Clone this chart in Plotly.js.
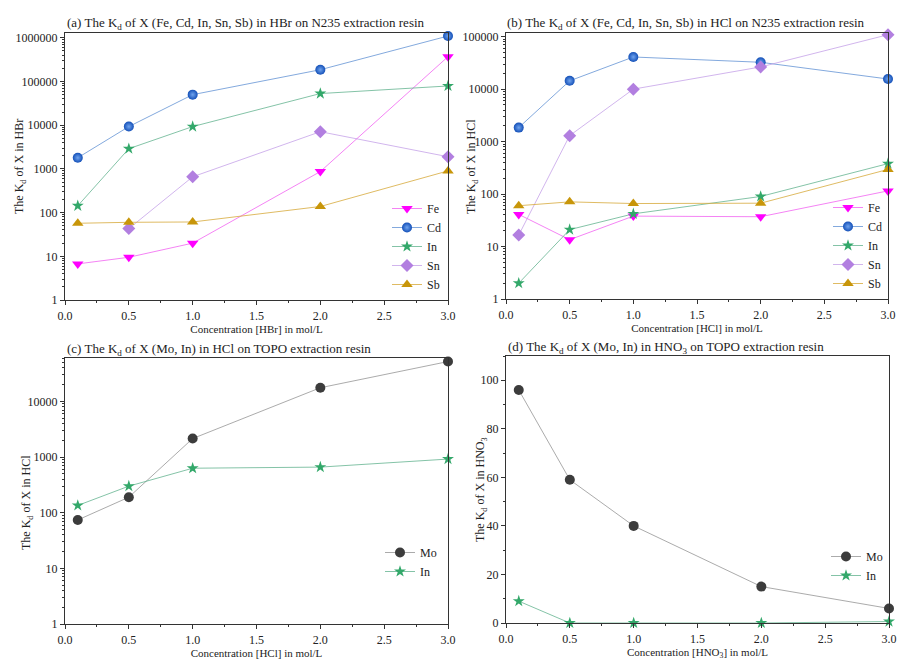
<!DOCTYPE html>
<html>
<head>
<meta charset="utf-8">
<script src="https://cdn.plot.ly/plotly-3.0.1.min.js"></script>
<style>html,body{margin:0;padding:0;background:#fff;}#chart{width:907px;height:669px;}</style>
</head>
<body>
<div id="chart"></div>
<script>
// ---- data ----
const conc = [0.1, 0.5, 1.0, 2.0, 3.0];

// (a) HBr on N235
const aFe = [6.7, 9.5, 20, 870, 370000];
const aCd = [1800, 9300, 50000, 186000, 1100000];
const aIn = [143, 2900, 9300, 53000, 79000];
const aSn = [null, 43, 660, 7100, 1900];
const aSb = [57, 60, 61, 138, 900];

// (b) HCl on N235
const bFe = [41, 13.5, 38, 37, 115];
const bCd = [1850, 14400, 41000, 32500, 15600];
const bIn = [2, 21, 42, 90, 380];
const bSn = [16.5, 1300, 10000, 26500, 109000];
const bSb = [60, 71, 66, 67, 295];

// (c) HCl on TOPO
const cMo = [74, 190, 2150, 17600, 52000];
const cIn = [135, 300, 630, 660, 920];

// (d) HNO3 on TOPO
const dMo = [96, 59, 40, 15, 6];
const dIn = [9, 0, 0, 0, 0.6];

const panelTitles = [
  "(a) The K<sub>d</sub> of X (Fe, Cd, In, Sn, Sb) in HBr on N235 extraction resin",
  "(b) The K<sub>d</sub> of X (Fe, Cd, In, Sn, Sb) in HCl on N235 extraction resin",
  "(c) The K<sub>d</sub> of X (Mo, In) in HCl on TOPO extraction resin",
  "(d) The K<sub>d</sub> of X (Mo, In) in HNO<sub>3</sub> on TOPO extraction resin"
];
const xTitles = [
  "Concentration [HBr] in mol/L",
  "Concentration [HCl] in mol/L",
  "Concentration [HCl] in mol/L",
  "Concentration [HNO<sub>3</sub>] in mol/L"
];
const yTitles = [
  "The K<sub>d</sub> of X in HBr",
  "The K<sub>d</sub> of X in HCl",
  "The K<sub>d</sub> of X in HCl",
  "The K<sub>d</sub> of X in HNO<sub>3</sub>"
];

// ---- styles ----
const FONT = "Liberation Serif";
const styles = {
  Fe: {symbol: 'triangle-down', color: '#ff00ff', line: 'rgba(240,90,240,0.75)', size: 10},
  Cd: {symbol: 'circle', color: '#1450b8', line: 'rgba(90,140,210,0.75)', size: 10, gradient: {type: 'radial', color: '#6fa3ee'}},
  In: {symbol: 'star', color: '#33a86a', line: 'rgba(80,170,130,0.7)', size: 9},
  Sn: {symbol: 'diamond', color: '#b27fe0', line: 'rgba(190,150,230,0.7)', size: 10},
  Sb: {symbol: 'triangle-up', color: '#c8960a', line: 'rgba(215,170,60,0.8)', size: 10},
  Mo: {symbol: 'circle', color: '#3c3c3c', line: 'rgba(150,150,150,0.8)', size: 10}
};

function tr(name, y, xa, ya, leg) {
  const s = styles[name];
  const m = {symbol: s.symbol, color: s.color, size: s.size, line: {width: 0}};
  if (s.gradient) m.gradient = s.gradient;
  return {
    x: conc, y: y, name: name, type: 'scatter', mode: 'lines+markers',
    xaxis: xa, yaxis: ya, legend: leg, cliponaxis: false,
    line: {color: s.line, width: 1}, marker: m
  };
}

const data = [
  tr('Fe', aFe, 'x', 'y', 'legend'),
  tr('Cd', aCd, 'x', 'y', 'legend'),
  tr('In', aIn, 'x', 'y', 'legend'),
  tr('Sn', aSn, 'x', 'y', 'legend'),
  tr('Sb', aSb, 'x', 'y', 'legend'),
  tr('Fe', bFe, 'x2', 'y2', 'legend2'),
  tr('Cd', bCd, 'x2', 'y2', 'legend2'),
  tr('In', bIn, 'x2', 'y2', 'legend2'),
  tr('Sn', bSn, 'x2', 'y2', 'legend2'),
  tr('Sb', bSb, 'x2', 'y2', 'legend2'),
  tr('Mo', cMo, 'x3', 'y3', 'legend3'),
  tr('In', cIn, 'x3', 'y3', 'legend3'),
  tr('Mo', dMo, 'x4', 'y4', 'legend4'),
  tr('In', dIn, 'x4', 'y4', 'legend4')
];

const W = 907, H = 669;
const px = v => v / W;
const py = v => 1 - v / H;

function xax(dom, title, anchor) {
  return {
    domain: dom, anchor: anchor, range: [0, 3], dtick: 0.5, tickformat: '.1f',
    showline: true, mirror: true, linecolor: '#333', linewidth: 1.2,
    ticks: 'outside', ticklen: 4, tickcolor: '#333', showgrid: false, zeroline: false,
    minor: {ticks: 'outside', ticklen: 2, dtick: 0.25, tickcolor: '#333', showgrid: false},
    tickfont: {family: FONT, size: 12, color: '#222'},
    title: {text: title, font: {family: FONT, size: 11, color: '#222'}, standoff: 1},
    automargin: false
  };
}
function ylog(dom, range, anchor) {
  return {
    domain: dom, anchor: anchor, type: 'log', range: range, dtick: 1, tickformat: 'd',
    showline: true, mirror: true, linecolor: '#333', linewidth: 1.2,
    ticks: 'outside', ticklen: 4, tickcolor: '#333', showgrid: false, zeroline: false,
    minor: {ticks: 'outside', ticklen: 2, dtick: 'D1', tickcolor: '#333', showgrid: false},
    tickfont: {family: FONT, size: 12, color: '#222'}, automargin: false
  };
}

const legendBase = {
  bgcolor: 'rgba(0,0,0,0)', borderwidth: 0, xref: 'paper', yref: 'paper',
  xanchor: 'right', yanchor: 'bottom', tracegroupgap: 0, itemwidth: 30,
  font: {family: FONT, size: 12, color: '#222'}
};

const layout = {
  width: W, height: H, margin: {l: 0, r: 0, t: 0, b: 0},
  paper_bgcolor: '#fff', plot_bgcolor: '#fff', font: {family: FONT, color: '#222'},
  xaxis: xax([px(65), px(448)], xTitles[0], 'y'),
  yaxis: ylog([py(300), py(33)], [0, 6.11], 'x'),
  xaxis2: xax([px(506), px(888)], xTitles[1], 'y2'),
  yaxis2: ylog([py(299), py(33)], [0, 5.07], 'x2'),
  xaxis3: xax([px(65), px(448)], xTitles[2], 'y3'),
  yaxis3: ylog([py(624), py(358)], [0, 4.78], 'x3'),
  xaxis4: xax([px(506), px(889)], xTitles[3], 'y4'),
  yaxis4: {
    domain: [py(623), py(356)], anchor: 'x4', range: [0, 110], dtick: 20,
    showline: true, mirror: true, linecolor: '#333', linewidth: 1.2,
    ticks: 'outside', ticklen: 4, tickcolor: '#333', showgrid: false, zeroline: false,
    minor: {ticks: 'outside', ticklen: 2, dtick: 10, tickcolor: '#333', showgrid: false},
    tickfont: {family: FONT, size: 12, color: '#222'}, automargin: false
  },
  legend: Object.assign({}, legendBase, {x: px(447), y: py(299)}),
  legend2: Object.assign({}, legendBase, {x: px(888), y: py(298)}),
  legend3: Object.assign({}, legendBase, {x: px(442), y: py(586)}),
  legend4: Object.assign({}, legendBase, {x: px(888), y: py(590)}),
  showlegend: true,
  annotations: []
};

const titlePos = [[65, 24], [505, 24], [65, 349], [506, 347]];
titlePos.forEach((p, i) => {
  layout.annotations.push({
    xref: 'paper', yref: 'paper', x: px(p[0]), y: py(p[1]), xanchor: 'left', yanchor: 'middle',
    showarrow: false, text: panelTitles[i], font: {family: FONT, size: 13, color: '#222'}
  });
});
const yTitlePos = [[20, 167], [472, 167], [27, 503], [481, 490]];
yTitlePos.forEach((p, i) => {
  layout.annotations.push({
    xref: 'paper', yref: 'paper', x: px(p[0]), y: py(p[1]), xanchor: 'center', yanchor: 'middle',
    showarrow: false, textangle: -90, text: yTitles[i], font: {family: FONT, size: 12, color: '#222'}
  });
});

Plotly.newPlot('chart', data, layout, {staticPlot: true, displayModeBar: false});
</script>
</body>
</html>
